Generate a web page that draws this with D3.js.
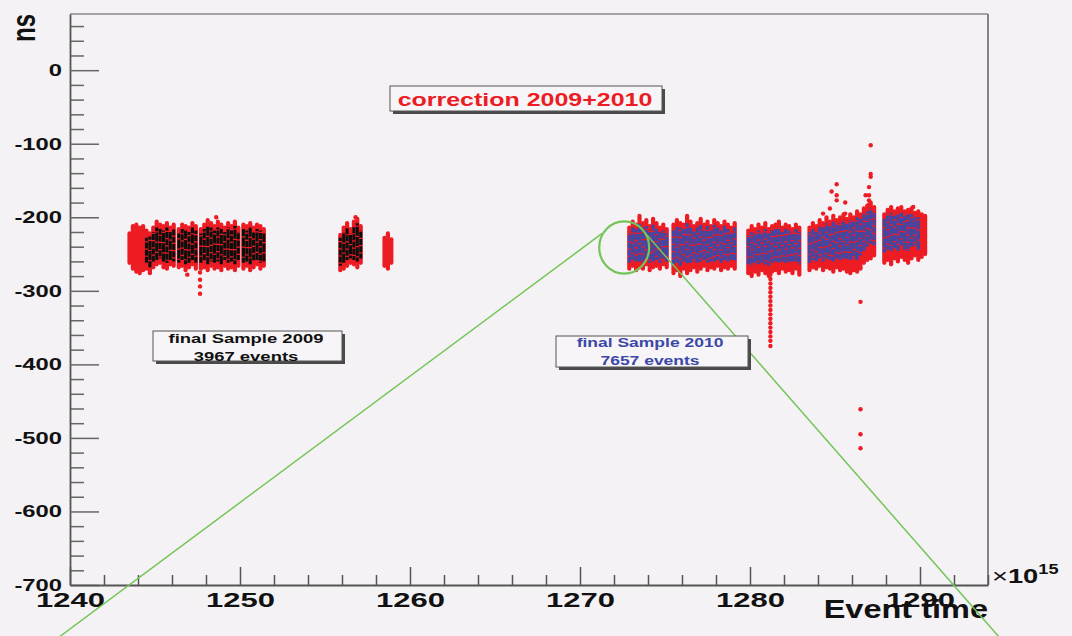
<!DOCTYPE html>
<html><head><meta charset="utf-8">
<script src="https://cdn.jsdelivr.net/npm/d3@7"></script>
<style>
html,body{margin:0;padding:0;background:#f4f2f4;}
svg{display:block;font-family:"Liberation Sans",Arial,Helvetica,sans-serif;}
</style></head><body>
<svg id="chart" width="1072" height="636"></svg>
<script>
// Axis tick labels
const xTickLabels = [1240, 1250, 1260, 1270, 1280, 1290];
const yTickLabels = [0, -100, -200, -300, -400, -500, -600, -700];

// Runs: [event time (x1e15), lowest ns, highest ns, final-sample low, final-sample high]
// final-sample bounds are null where only corrected events remain
const runs2009 = [
  [1243.5,-262,-222,null,null],[1243.7,-270,-212,null,null],[1243.9,-274,-210,null,null],
  [1244.1,-276,-214,null,null],[1244.3,-272,-212,null,null],[1244.5,-270,-218,-262,-228],
  [1244.7,-276,-222,-268,-226],[1244.9,-268,-214,-262,-220],[1245.1,-264,-206,-258,-214],
  [1245.3,-262,-210,-256,-216],[1245.5,-268,-212,-260,-218],[1245.7,-270,-208,-262,-214],
  [1245.9,-264,-214,-258,-220],[1246.1,-266,-210,-260,-216],[1246.4,-268,-216,-262,-222],
  [1246.6,-266,-210,-258,-216],[1246.8,-272,-212,-264,-218],[1247.0,-268,-214,-262,-220],
  [1247.2,-264,-208,-258,-214],[1247.4,-270,-212,-262,-218],[1247.7,-270,-216,-262,-222],
  [1247.9,-268,-210,-260,-216],[1248.1,-272,-204,-264,-212],[1248.3,-266,-208,-260,-214],
  [1248.5,-270,-212,-262,-218],[1248.7,-268,-206,-260,-214],[1248.9,-272,-210,-264,-216],
  [1249.1,-266,-214,-258,-220],[1249.3,-270,-208,-262,-214],[1249.5,-268,-212,-260,-218],
  [1249.7,-272,-206,-264,-212],[1249.9,-266,-214,-258,-220],[1250.2,-270,-210,-262,-216],
  [1250.4,-266,-212,-260,-218],[1250.6,-272,-208,-264,-214],[1250.8,-268,-214,-260,-220],
  [1251.0,-264,-210,-258,-216],[1251.2,-270,-212,-262,-218],[1251.4,-266,-216,-260,-222],
  [1255.9,-272,-224,-266,-228],[1256.1,-270,-214,-262,-220],[1256.3,-266,-208,-258,-214],
  [1256.5,-262,-216,-256,-222],[1256.7,-264,-206,-258,-212],[1256.9,-268,-202,-260,-208],
  [1257.1,-262,-212,-256,-218],
  [1258.5,-266,-228,null,null],[1258.7,-270,-222,null,null],[1258.9,-262,-230,null,null]
];

const runs2010 = [
  [1272.9,-270,-214,-262,-222],[1273.1,-266,-206,-258,-214],[1273.3,-272,-210,-262,-216],
  [1273.5,-268,-198,-260,-208],[1273.7,-270,-208,-262,-214],[1273.9,-264,-204,-256,-212],
  [1274.1,-272,-212,-262,-218],[1274.3,-268,-202,-260,-210],[1274.5,-266,-208,-258,-216],
  [1274.7,-270,-214,-262,-220],[1274.9,-264,-210,-256,-218],[1275.1,-268,-216,-260,-222],
  [1275.5,-276,-210,-264,-218],[1275.7,-272,-204,-262,-212],[1275.9,-280,-208,-266,-214],
  [1276.1,-270,-210,-260,-216],[1276.3,-276,-198,-264,-208],[1276.5,-272,-206,-262,-214],
  [1276.7,-268,-212,-260,-218],[1276.9,-274,-208,-262,-214],[1277.1,-270,-202,-260,-210],
  [1277.3,-266,-210,-258,-216],[1277.5,-272,-206,-262,-212],[1277.7,-268,-212,-260,-218],
  [1277.9,-270,-204,-260,-210],[1278.1,-266,-208,-258,-214],[1278.3,-272,-212,-262,-218],
  [1278.5,-268,-206,-258,-212],[1278.7,-270,-210,-260,-216],[1278.9,-266,-214,-258,-220],
  [1279.1,-270,-208,-260,-214],
  [1279.9,-276,-218,-264,-224],[1280.1,-280,-212,-266,-220],[1280.3,-274,-216,-262,-222],
  [1280.5,-278,-210,-264,-218],[1280.7,-272,-214,-262,-220],[1280.9,-276,-208,-264,-216],
  [1281.1,-280,-216,-266,-222],[1281.3,-274,-212,-262,-218],[1281.5,-272,-210,-260,-216],
  [1281.7,-276,-206,-262,-214],[1281.9,-270,-214,-260,-220],[1282.1,-274,-210,-262,-216],
  [1282.3,-272,-212,-260,-218],[1282.5,-276,-216,-262,-222],[1282.7,-270,-210,-260,-216],
  [1282.9,-278,-214,-264,-220],
  [1283.5,-272,-214,-262,-220],[1283.7,-268,-208,-258,-216],[1283.9,-270,-212,-260,-218],
  [1284.1,-266,-204,-256,-212],[1284.3,-272,-208,-260,-214],[1284.5,-268,-200,-256,-208],
  [1284.7,-270,-206,-258,-212],[1284.9,-274,-198,-260,-206],[1285.1,-268,-204,-256,-210],
  [1285.3,-272,-200,-258,-208],[1285.5,-270,-196,-256,-204],[1285.7,-274,-202,-258,-208],
  [1285.9,-276,-196,-258,-204],[1286.1,-272,-200,-256,-206],[1286.3,-274,-192,-258,-200],
  [1286.5,-270,-196,-252,-202],[1286.7,-262,-188,-246,-196],[1286.9,-258,-184,-240,-192],
  [1287.1,-256,-180,-236,-188],[1287.3,-252,-186,-238,-194],
  [1287.9,-262,-196,-248,-202],[1288.1,-258,-190,-244,-196],[1288.3,-264,-186,-246,-194],
  [1288.5,-256,-192,-242,-198],[1288.7,-260,-188,-246,-196],[1288.9,-254,-186,-240,-194],
  [1289.1,-258,-192,-244,-198],[1289.3,-262,-190,-246,-196],[1289.5,-256,-188,-240,-196],
  [1289.7,-252,-194,-238,-200],[1289.9,-258,-192,-244,-200],[1290.1,-254,-196,null,null],
  [1290.3,-250,-198,null,null]
];

// Isolated corrected events: [event time (x1e15), ns]
const stray2009 = [
  [1246.9,-278],[1247.65,-275],[1247.65,-285],[1247.65,-294],[1247.65,-304],
  [1248.6,-200],[1256.8,-200]
];
const stray2010 = [
  [1281.2,-278],[1281.2,-284],[1281.2,-290],[1281.2,-296],[1281.2,-302],
  [1281.2,-308],[1281.2,-314],[1281.2,-320],[1281.2,-326],[1281.2,-332],
  [1281.2,-338],[1281.2,-344],[1281.2,-350],[1281.2,-356],[1281.2,-362],
  [1281.2,-368],[1281.2,-375],
  [1287.1,-102],[1287.1,-141],[1287.1,-145],[1287.0,-159],[1287.0,-170],
  [1287.0,-177],[1287.0,-183],[1285.1,-155],[1284.8,-165],[1285.1,-170],
  [1285.1,-177],[1285.6,-180],[1284.7,-188],[1284.3,-195],[1285.6,-195],
  [1286.3,-202],[1286.8,-170],[1289.6,-186],
  [1286.5,-315],[1286.5,-461],[1286.5,-495],[1286.5,-514]
];

const titleText = "correction 2009+2010";
const sampleLabels = ["final Sample 2009", "final Sample 2010"];
const sampleCounts = [3967, 7657];

// Zoom marker around the start of the 2010 data, with its guide lines
const zoomMark = { t: 1272.6, ns: -241, dt: 1.47, dns: 35.5 };
const guideLines = [
  [[1239.4, -770], [1271.3, -222]],
  [[1273.82, -221], [1294.7, -772]]
];

const svg = d3.select("#chart");
const x = d3.scaleLinear().domain([1240, 1294]).range([70, 988]);
const y = d3.scaleLinear().domain([-700, 76.4]).range([585, 14]);

const RED = "#ec1c24", BLUE = "#3c48a8", BLACK = "#111111";

// soft edges of the dense event clouds
const defs = svg.append("defs");
defs.append("filter").attr("id", "soft").attr("x", "-5%").attr("y", "-20%")
  .attr("width", "110%").attr("height", "140%")
  .append("feGaussianBlur").attr("stdDeviation", 0.6);

// frame
svg.append("line").attr("x1", 70).attr("x2", 988).attr("y1", 14).attr("y2", 14)
  .attr("stroke", "#8a8a8a").attr("stroke-width", 1.6);
svg.append("line").attr("x1", 988).attr("x2", 988).attr("y1", 14).attr("y2", 585)
  .attr("stroke", "#6a6a6a").attr("stroke-width", 1.6);

// minor ticks
const yMinor = d3.range(-680, 77, 20).filter(v => v % 100 !== 0);
svg.append("g").attr("transform", "translate(70,0)")
  .call(d3.axisLeft(y).tickValues(yMinor).tickSize(-14).tickFormat(""))
  .call(g => g.select(".domain").remove())
  .call(g => g.selectAll("line").attr("stroke", "#666").attr("stroke-width", 1.5));
const xMinor = d3.range(1242, 1294.1, 2).filter(v => v % 10 !== 0);
svg.append("g").attr("transform", "translate(0,585)")
  .call(d3.axisBottom(x).tickValues(xMinor).tickSize(-10).tickFormat(""))
  .call(g => g.select(".domain").remove())
  .call(g => g.selectAll("line").attr("stroke", "#555").attr("stroke-width", 1.5));

// major axes
const yAxis = svg.append("g").attr("transform", "translate(70,0)")
  .call(d3.axisLeft(y).tickValues(yTickLabels).tickSize(-29).tickSizeOuter(0)
    .tickPadding(8).tickFormat(d => String(d)));
yAxis.select(".domain").attr("stroke", "#555").attr("stroke-width", 1.8);
yAxis.selectAll("line").attr("stroke", "#666").attr("stroke-width", 1.5);
yAxis.selectAll("text")
  .attr("x", -8 / 1.4).attr("transform", "scale(1.4,1)")
  .attr("font-size", 17).attr("font-weight", "bold").attr("fill", "#111");

const xAxis = svg.append("g").attr("transform", "translate(0,585)")
  .call(d3.axisBottom(x).tickValues(xTickLabels).tickSize(-18).tickSizeOuter(0)
    .tickPadding(8).tickFormat(d => String(d)));
xAxis.select(".domain").attr("stroke", "#555").attr("stroke-width", 1.8);
xAxis.selectAll("line").attr("stroke", "#555").attr("stroke-width", 1.5);
xAxis.selectAll("text")
  .attr("transform", "scale(1.55,1)")
  .attr("font-size", 20).attr("font-weight", "bold").attr("fill", "#111");

// axis titles
svg.append("text").attr("transform", "translate(988,618) scale(1.3,1)")
  .attr("text-anchor", "end").attr("font-size", 25).attr("font-weight", "bold")
  .attr("fill", "#111").text("Event time");
svg.append("text").attr("transform", "translate(35,14) scale(1.4,1) rotate(-90)")
  .attr("text-anchor", "end").attr("font-size", 24).attr("font-weight", "bold")
  .attr("fill", "#111").text("ns");
const exp = svg.append("text").attr("transform", "translate(992,583) scale(1.3,1)")
  .attr("font-size", 21).attr("fill", "#111");
exp.append("tspan").text("\u00d7");
exp.append("tspan").attr("font-weight", "bold").text("10");
exp.append("tspan").attr("font-weight", "bold").attr("font-size", 14).attr("dy", -9).text("15");

// corrected events (all, red)
const allRuns = runs2009.concat(runs2010);
const plot = svg.append("g").attr("filter", "url(#soft)");
plot.selectAll("line.all").data(allRuns).join("line").attr("class", "all")
  .attr("x1", d => x(d[0])).attr("x2", d => x(d[0]))
  .attr("y1", d => y(d[1])).attr("y2", d => y(d[2]))
  .attr("stroke", RED).attr("stroke-width", 4.2).attr("stroke-linecap", "round");
plot.selectAll("circle.stray").data(stray2009.concat(stray2010)).join("circle")
  .attr("class", "stray")
  .attr("cx", d => x(d[0])).attr("cy", d => y(d[1])).attr("r", 2.2).attr("fill", RED);

// final samples
function finalRuns(data, color, cls) {
  plot.selectAll("line." + cls).data(data.filter(d => d[3] !== null)).join("line")
    .attr("class", cls)
    .attr("x1", d => x(d[0])).attr("x2", d => x(d[0]))
    .attr("y1", d => y(d[3])).attr("y2", d => y(d[4]))
    .attr("stroke", color).attr("stroke-width", 3.1)
    .attr("stroke-dasharray", (d, i) => i % 2 ? "9 1.2" : "6 1.2")
    .attr("stroke-dashoffset", (d, i) => (i * 3) % 7);
}
finalRuns(runs2009, BLACK, "f2009");
finalRuns(runs2010, BLUE, "f2010");

// zoom marker and guides
const GREEN = "#72c557";
svg.append("ellipse")
  .attr("cx", x(zoomMark.t)).attr("cy", y(zoomMark.ns))
  .attr("rx", x(zoomMark.t + zoomMark.dt) - x(zoomMark.t))
  .attr("ry", y(zoomMark.ns - zoomMark.dns) - y(zoomMark.ns))
  .attr("fill", "none").attr("stroke", GREEN).attr("stroke-width", 2.2);
svg.selectAll("line.guide").data(guideLines).join("line").attr("class", "guide")
  .attr("x1", d => x(d[0][0])).attr("y1", d => y(d[0][1]))
  .attr("x2", d => x(d[1][0])).attr("y2", d => y(d[1][1]))
  .attr("stroke", GREEN).attr("stroke-width", 1.5);

// text boxes with drop shadow
function pave(x0, y0, x1, y1) {
  svg.append("rect").attr("x", x0 + 3).attr("y", y0 + 3)
    .attr("width", x1 - x0).attr("height", y1 - y0).attr("fill", "#4a4a4a");
  svg.append("rect").attr("x", x0).attr("y", y0)
    .attr("width", x1 - x0).attr("height", y1 - y0)
    .attr("fill", "#f7f5f7").attr("stroke", "#555").attr("stroke-width", 1);
}
pave(390, 86, 662, 111);
svg.append("text").attr("transform", "translate(525,106) scale(1.35,1)")
  .attr("text-anchor", "middle").attr("font-size", 18.5).attr("font-weight", "bold")
  .attr("fill", RED).text(titleText);

pave(153, 331, 342, 361);
const t09 = svg.append("text").attr("transform", "translate(246,0) scale(1.42,1)")
  .attr("text-anchor", "middle").attr("font-size", 13).attr("font-weight", "bold")
  .attr("fill", BLACK);
t09.append("tspan").attr("x", 0).attr("y", 343.5).text(sampleLabels[0]);
t09.append("tspan").attr("x", 0).attr("y", 361).text(sampleCounts[0] + " events");

pave(556, 336, 748, 367);
const t10 = svg.append("text").attr("transform", "translate(650,0) scale(1.4,1)")
  .attr("text-anchor", "middle").attr("font-size", 12.5).attr("font-weight", "bold")
  .attr("fill", BLUE);
t10.append("tspan").attr("x", 0).attr("y", 347).text(sampleLabels[1]);
t10.append("tspan").attr("x", 0).attr("y", 365).text(sampleCounts[1] + " events");
</script>
</body></html>
